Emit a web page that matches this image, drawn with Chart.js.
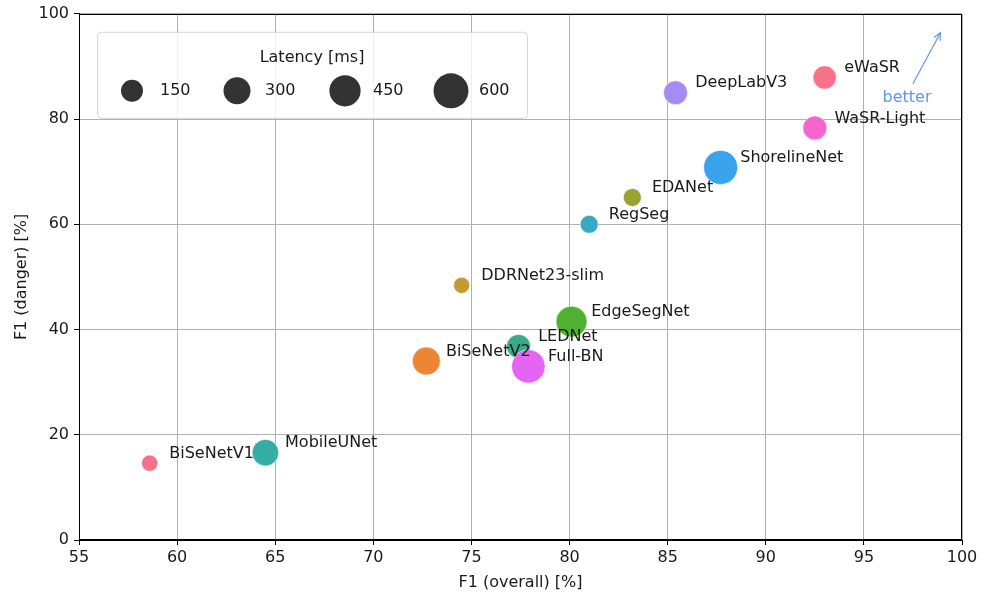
<!DOCTYPE html>
<html>
<head>
<meta charset="utf-8">
<script src="https://cdn.jsdelivr.net/npm/chart.js@4/dist/chart.umd.min.js"></script>
<style>
html,body{margin:0;padding:0;background:#fff;overflow:hidden;}
#wrap{width:987px;height:592px;position:relative;overflow:hidden;}
#c{position:absolute;left:0;top:-4px;}
</style>
</head>
<body>
<div id="wrap"><canvas id="c" width="987" height="596"></canvas></div>
<script>
const models = ["eWaSR","DeepLabV3","WaSR-Light","ShorelineNet","EDANet","RegSeg","DDRNet23-slim","EdgeSegNet","LEDNet","Full-BN","BiSeNetV2","MobileUNet","BiSeNetV1"];
const f1Overall = [93.0, 85.4, 92.5, 87.7, 83.2, 81.0, 74.5, 80.1, 77.4, 77.9, 72.7, 64.5, 58.6];
const f1Danger  = [87.9, 85.0, 78.3, 70.8, 65.1, 60.0, 48.4, 41.5, 36.8, 33.0, 34.0, 16.6, 14.6];
const latency   = [185, 205, 205, 560, 53, 53, 15, 440, 205, 535, 335, 285, 18];
const colors    = ["#f77189","#a48cf4","#f565cc","#3ba3ec","#9aa232","#38a9c5","#c39a33","#50b131","#35ad86","#e465f4","#eb8634","#36ada4","#f77189"];
const legendLatency = [150, 300, 450, 600];
const xTicks = [55,60,65,70,75,80,85,90,95,100];
const yTicks = [0,20,40,60,80,100];

function sizeFor(lat){ return Math.sqrt(59 + 0.411*lat); }

const FONT = "DejaVu Sans";
const FS = 16;

const points = models.map((m,i)=>({x:f1Overall[i], y:f1Danger[i], r:sizeFor(latency[i]), label:m}));

const overlay = {
  id:'overlay',
  afterDraw(chart){
    const ctx = chart.ctx;
    const xs = chart.scales.x, ys = chart.scales.y;
    const a = chart.chartArea;
    ctx.save();
    // frame
    ctx.strokeStyle = '#000';
    ctx.lineWidth = 1;
    ctx.strokeRect(Math.round(a.left)+0.5, Math.round(a.top)+0.5, Math.round(a.right-a.left)-1, Math.round(a.bottom-a.top)-1);
    // labels
    ctx.fillStyle = '#1a1a1a';
    ctx.font = FS + 'px "' + FONT + '"';
    ctx.textAlign = 'left';
    ctx.textBaseline = 'middle';
    models.forEach((m,i)=>{
      ctx.fillText(m, xs.getPixelForValue(f1Overall[i]+1), ys.getPixelForValue(f1Danger[i]+1.8));
    });
    // better arrow
    const x0 = xs.getPixelForValue(97.5), y0 = ys.getPixelForValue(86.7);
    const x1 = xs.getPixelForValue(98.9), y1 = ys.getPixelForValue(96.4);
    ctx.strokeStyle = '#6495ed';
    ctx.lineWidth = 1.2;
    ctx.beginPath(); ctx.moveTo(x0,y0); ctx.lineTo(x1,y1); ctx.stroke();
    const ang = Math.atan2(y1-y0, x1-x0);
    ctx.beginPath();
    ctx.moveTo(x1 - 8*Math.cos(ang-0.45), y1 - 8*Math.sin(ang-0.45));
    ctx.lineTo(x1,y1);
    ctx.lineTo(x1 - 8*Math.cos(ang+0.45), y1 - 8*Math.sin(ang+0.45));
    ctx.stroke();
    ctx.fillStyle = '#6495ed';
    ctx.textAlign = 'center';
    ctx.fillText('better', xs.getPixelForValue(97.2), ys.getPixelForValue(84.1));
    // size legend
    const lx = a.left + 18, ly = a.top + 18, lw = 430, lh = 86;
    ctx.beginPath();
    if (ctx.roundRect) ctx.roundRect(lx+0.5, ly+0.5, lw, lh, 4); else ctx.rect(lx+0.5, ly+0.5, lw, lh);
    ctx.fillStyle = 'rgba(255,255,255,0.8)';
    ctx.fill();
    ctx.strokeStyle = '#d6d6d6';
    ctx.lineWidth = 1;
    ctx.stroke();
    ctx.fillStyle = '#1a1a1a';
    ctx.textAlign = 'center';
    ctx.fillText('Latency [ms]', lx + 215, ly + 26);
    const cx = [132, 237, 345, 451];
    legendLatency.forEach((v,i)=>{
      const r = sizeFor(v);
      ctx.beginPath();
      ctx.arc(cx[i], ly + 59, r, 0, Math.PI*2);
      ctx.fillStyle = '#333333';
      ctx.fill();
      ctx.fillStyle = '#1a1a1a';
      ctx.textAlign = 'left';
      ctx.fillText(String(v), cx[i] + 28, ly + 59);
    });
    ctx.restore();
  }
};

new Chart(document.getElementById('c'), {
  type:'bubble',
  data:{datasets:[{
    data: points,
    backgroundColor: colors,
    borderColor: 'rgba(255,255,255,0.7)',
    borderWidth: 0.8,
    hoverRadius: 0
  }]},
  options:{
    responsive:false,
    animation:false,
    events:[],
    layout:{padding:{left:0,right:25,top:4,bottom:0}},
    plugins:{legend:{display:false}, tooltip:{enabled:false}},
    scales:{
      x:{
        type:'linear', min:55, max:100, z:1,
        afterBuildTicks(s){ s.ticks = xTicks.map(v=>({value:v})); },
        afterFit(s){ s.height = 52; },
        grid:{color:'#b0b0b0', lineWidth:1, tickColor:'#000', tickLength:5, drawTicks:true},
        border:{display:true, color:'#000'},
        ticks:{color:'#1a1a1a', font:{family:FONT, size:FS}, padding:3, maxRotation:0, autoSkip:false},
        title:{display:true, text:'F1 (overall) [%]', color:'#1a1a1a', font:{family:FONT, size:FS}, padding:{top:0,bottom:0}}
      },
      y:{
        type:'linear', min:0, max:100, z:1,
        afterBuildTicks(s){ s.ticks = yTicks.map(v=>({value:v})); },
        afterFit(s){ s.width = 79; },
        grid:{color:'#b0b0b0', lineWidth:1, tickColor:'#000', tickLength:5, drawTicks:true},
        border:{display:true, color:'#000'},
        ticks:{color:'#1a1a1a', font:{family:FONT, size:FS}, padding:5, autoSkip:false},
        title:{display:true, text:'F1 (danger) [%]', color:'#1a1a1a', font:{family:FONT, size:FS}, padding:{top:12,bottom:0}}
      }
    }
  },
  plugins:[overlay]
});
</script>
</body>
</html>
